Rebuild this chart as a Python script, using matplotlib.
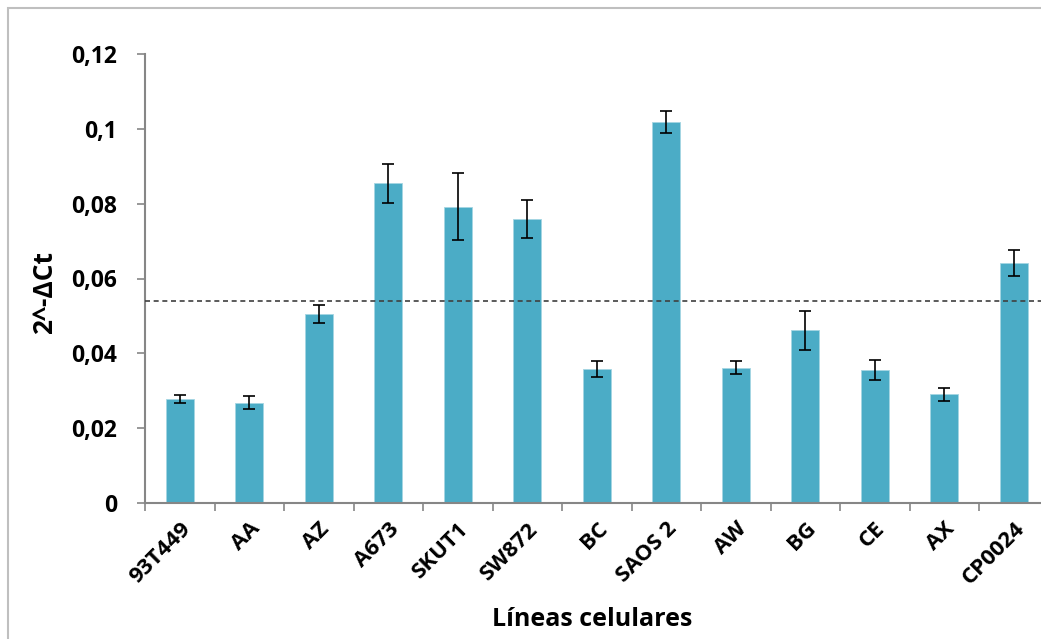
import matplotlib.pyplot as plt
from matplotlib.patches import Rectangle
import numpy as np

# --- data ---
lineas = ['93T449', 'AA', 'AZ', 'A673', 'SKUT1', 'SW872', 'BC',
          'SAOS 2', 'AW', 'BG', 'CE', 'AX', 'CP0024']
valores = [0.0278, 0.0268, 0.0505, 0.0854, 0.0792, 0.0760, 0.0358,
           0.1018, 0.0362, 0.0462, 0.0355, 0.0290, 0.0641]
errores = [0.0010, 0.0018, 0.0025, 0.0051, 0.0090, 0.0051, 0.0021,
           0.0030, 0.0018, 0.0052, 0.0027, 0.0018, 0.0034]
umbral = 0.054
yticks = [0, 0.02, 0.04, 0.06, 0.08, 0.1, 0.12]
ytick_labels = ['0', '0,02', '0,04', '0,06', '0,08', '0,1', '0,12']

plt.rcParams['font.family'] = ['Open Sans', 'DejaVu Sans']
plt.rcParams['font.weight'] = 'bold'

W, H = 1041, 639
fig = plt.figure(figsize=(W / 100, H / 100), dpi=100)

# light grey frame around the chart area (cut off right and bottom)
fig.patches.append(Rectangle((8 / W, -0.1), 1.2, 1 - 8 / H + 0.1,
                             transform=fig.transFigure, fill=False,
                             edgecolor='#bfbfbf', linewidth=1.5))

# axes placed in pixels: left 145, top 54, bottom 503, spacing 69.5 px
left, top, bottom = 145, 54, 503
width = 13 * 69.5
ax = fig.add_axes([left / W, 1 - bottom / H, width / W, (bottom - top) / H])

x = np.arange(len(lineas))
ax.bar(x, valores, width=0.4, color='#4bacc6', edgecolor='#a5d5e2',
       linewidth=0.6, zorder=2)
ax.errorbar(x, valores, yerr=errores, fmt='none', ecolor='black',
            elinewidth=1.2, capsize=4.5, capthick=1.2, zorder=3)
ax.axhline(umbral, color='#404040', linestyle=(0, (3, 2.2)), linewidth=1.2,
           zorder=4)

ax.set_xlim(-0.5, len(lineas) - 0.5)
ax.set_ylim(0, 0.12)
ax.set_yticks(yticks)
ax.set_yticklabels(ytick_labels, fontsize=16.5, fontweight='bold')
ax.set_xticks(x)
ax.set_xticklabels(lineas, rotation=45, ha='right', rotation_mode='anchor',
                   fontsize=16, fontweight='bold')
ax.set_xticks(np.arange(-0.5, len(lineas), 1), minor=True)
ax.tick_params(axis='x', which='major', length=0, pad=11)
ax.tick_params(axis='x', which='minor', length=6, color='#868686', width=1.2)
ax.tick_params(axis='y', length=6, color='#868686', width=1.2, pad=14)

for s in ['top', 'right']:
    ax.spines[s].set_visible(False)
for s in ['left', 'bottom']:
    ax.spines[s].set_color('#868686')
    ax.spines[s].set_linewidth(1.5)

ax.set_ylabel('2^-ΔCt', fontsize=19, fontweight='bold')
ax.set_xlabel('Líneas celulares', fontsize=18, fontweight='bold')
ax.xaxis.set_label_coords((592 - left) / width, -(620 - bottom) / (bottom - top))
ax.xaxis.label.set_va('center')
ax.yaxis.set_label_coords(-(145 - 45) / width, (bottom - 293) / (bottom - top))
ax.yaxis.label.set_va('center')

fig.savefig('out.png', dpi=100)
